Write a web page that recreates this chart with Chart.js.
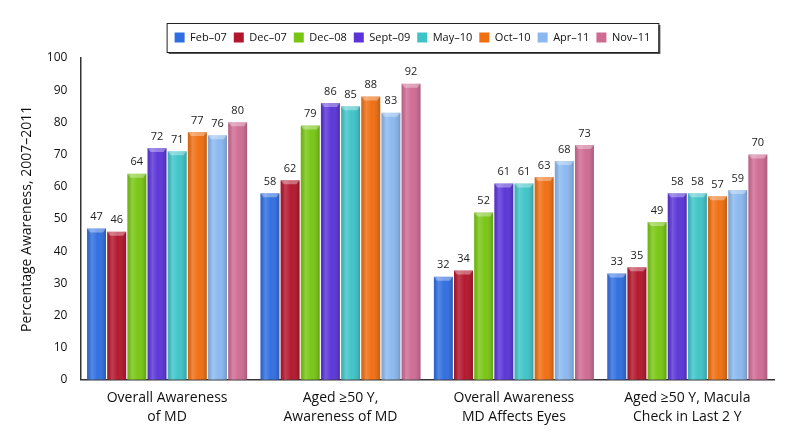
<!DOCTYPE html>
<html>
<head>
<meta charset="utf-8">
<script src="https://cdn.jsdelivr.net/npm/chart.js@4"></script>
<style>
  html, body { margin: 0; padding: 0; background: #fff; }
  #wrap { width: 800px; height: 442px; }
</style>
</head>
<body>
<div id="wrap"><canvas id="chart" width="800" height="442"></canvas></div>
<script>
const categories = [
  ["Overall Awareness", "of MD"],
  ["Aged \u226550 Y,", "Awareness of MD"],
  ["Overall Awareness", "MD Affects Eyes"],
  ["Aged \u226550 Y, Macula", "Check in Last 2 Y"]
];
const seriesNames = ["Feb\u201307", "Dec\u201307", "Dec\u201308", "Sept\u201309", "May\u201310", "Oct\u201310", "Apr\u201311", "Nov\u201311"];
const feb07 = [47, 58, 32, 33];
const dec07 = [46, 62, 34, 35];
const dec08 = [64, 79, 52, 49];
const sept09 = [72, 86, 61, 58];
const may10 = [71, 85, 61, 58];
const oct10 = [77, 88, 63, 57];
const apr11 = [76, 83, 68, 59];
const nov11 = [80, 92, 73, 70];
const yTicks = [0, 10, 20, 30, 40, 50, 60, 70, 80, 90, 100];

const seriesValues = [feb07, dec07, dec08, sept09, may10, oct10, apr11, nov11];
const colors = ["#2f6ee0", "#b3152c", "#78c612", "#5a34d8", "#3ec4c8", "#f06e10", "#8ab8ef", "#cf6b93"];
const FONT = "'Open Sans', 'Liberation Sans', sans-serif";
const LEGEND_SHIFT = 18;

// glossy shading on top of each bar
const shading = {
  id: "shading",
  afterDatasetsDraw(chart) {
    const ctx = chart.ctx;
    chart.data.datasets.forEach((ds, i) => {
      chart.getDatasetMeta(i).data.forEach(bar => {
        const left = bar.x - bar.width / 2, w = bar.width;
        const g = ctx.createLinearGradient(left, 0, left + w, 0);
        g.addColorStop(0, "rgba(0,0,0,0.10)");
        g.addColorStop(0.25, "rgba(255,255,255,0.18)");
        g.addColorStop(0.55, "rgba(255,255,255,0.02)");
        g.addColorStop(1, "rgba(0,0,0,0.18)");
        ctx.save();
        ctx.fillStyle = g;
        ctx.fillRect(left, bar.y, w, bar.base - bar.y);
        ctx.fillStyle = "rgba(255,255,255,0.35)";
        ctx.beginPath();
        ctx.moveTo(left, bar.y);
        ctx.lineTo(left + w, bar.y);
        ctx.lineTo(left + w - 3, bar.y + 4);
        ctx.lineTo(left + 3, bar.y + 4);
        ctx.closePath();
        ctx.fill();
        ctx.restore();
      });
    });
  }
};

// values above bars
const valueLabels = {
  id: "valueLabels",
  afterDatasetsDraw(chart) {
    const ctx = chart.ctx;
    ctx.save();
    ctx.font = "11px " + FONT;
    ctx.fillStyle = "#222";
    ctx.textAlign = "center";
    ctx.textBaseline = "bottom";
    chart.data.datasets.forEach((ds, i) => {
      chart.getDatasetMeta(i).data.forEach((bar, j) => {
        ctx.fillText(ds.data[j], bar.x, bar.y - 6);
      });
    });
    ctx.restore();
  }
};

// taller legend block, shifted right, drawn inside a box with shadow
const legendBox = {
  id: "legendBox",
  beforeInit(chart) {
    const lg = chart.legend;
    const fit = lg.fit;
    lg.fit = function () { fit.call(this); this.height += 5; };
  },
  afterLayout(chart) {
    const lg = chart.legend;
    lg.left += LEGEND_SHIFT;
    lg.right += LEGEND_SHIFT;
    lg.legendHitBoxes.forEach(h => { h.left += LEGEND_SHIFT; });
  },
  beforeDraw(chart) {
    const lg = chart.legend;
    if (!lg || !lg.legendItems.length) return;
    const hb = lg.legendHitBoxes;
    const x1 = hb[0].left - 8, x2 = hb[hb.length - 1].left + hb[hb.length - 1].width + 8;
    const y1 = hb[0].top - 9, y2 = hb[0].top + hb[0].height + 9;
    const ctx = chart.ctx;
    ctx.save();
    ctx.fillStyle = "#555";
    ctx.fillRect(x1 + 2, y1 + 2, x2 - x1, y2 - y1);
    ctx.fillStyle = "#fff";
    ctx.fillRect(x1, y1, x2 - x1, y2 - y1);
    ctx.strokeStyle = "#222";
    ctx.lineWidth = 1;
    ctx.strokeRect(x1 + 0.5, y1 + 0.5, x2 - x1, y2 - y1);
    ctx.restore();
  }
};

new Chart(document.getElementById("chart"), {
  type: "bar",
  data: {
    labels: categories,
    datasets: seriesNames.map((name, i) => ({
      label: name,
      data: seriesValues[i],
      backgroundColor: colors[i],
      borderWidth: 0,
      categoryPercentage: 0.93,
      barPercentage: 0.94
    }))
  },
  options: {
    responsive: false,
    animation: false,
    layout: { padding: { top: 25, right: 26, left: 15, bottom: 15 } },
    plugins: {
      tooltip: { enabled: false },
      legend: {
        position: "top",
        labels: {
          boxWidth: 10,
          boxHeight: 10,
          padding: 7,
          color: "#111",
          font: { family: FONT, size: 11 }
        }
      }
    },
    scales: {
      x: {
        grid: { display: false },
        border: { display: true, color: "#333", width: 1.5 },
        ticks: { color: "#111", font: { family: FONT, size: 14, lineHeight: 1.4 }, padding: 0, maxRotation: 0 },
      },
      y: {
        min: 0,
        max: 100,
        afterBuildTicks(axis) { axis.ticks = yTicks.map(v => ({ value: v })); },
        grid: { display: false },
        border: { display: true, color: "#333", width: 1.5 },
        ticks: { color: "#111", font: { family: FONT, size: 12 }, padding: 5 },
        title: {
          display: true,
          text: "Percentage Awareness, 2007\u20132011",
          color: "#111",
          font: { family: FONT, size: 14 },
          padding: { bottom: 6 }
        }
      }
    }
  },
  plugins: [legendBox, shading, valueLabels]
});
</script>
</body>
</html>
